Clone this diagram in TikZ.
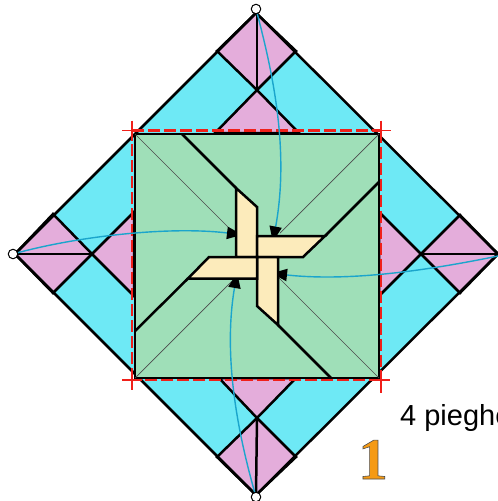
\documentclass[tikz,border=0pt]{standalone}
\usepackage{fontspec}
\setmainfont{Liberation Sans}
\newfontfamily\digitfont{Liberation Serif}
\usetikzlibrary{arrows.meta}
\definecolor{cy}{HTML}{6EE9F5}
\definecolor{pk}{HTML}{E4ADDB}
\definecolor{gn}{HTML}{9FDFB8}
\definecolor{cr}{HTML}{FCEBBB}
\definecolor{rd}{HTML}{F0201A}
\definecolor{tl}{HTML}{1BA5CC}
\definecolor{og}{HTML}{F59A14}
\pgfdeclarearrow{
  name=Trap,
  setup code={
    \pgfarrowssettipend{0pt}
    \pgfarrowssetbackend{-9pt}
    \pgfarrowssetlineend{-8pt}
    \pgfarrowssetvisualbackend{-8pt}
  },
  drawing code={
    \pgfpathmoveto{\pgfpoint{0pt}{2.6pt}}
    \pgfpathlineto{\pgfpoint{-9pt}{6.3pt}}
    \pgfpathlineto{\pgfpoint{-9pt}{-6.3pt}}
    \pgfpathlineto{\pgfpoint{0pt}{-2.6pt}}
    \pgfpathclose
    \pgfusepathqfill
  },
}
\tikzset{
  x=1pt,y=-1pt,
  edge/.style={draw=black,line width=2.5pt,line join=miter},
  pinkface/.style={fill=pk,edge},
  blade/.style={fill=cr,edge},
  fine/.style={draw=black!70,line width=.7pt},
  guide/.style={draw=rd,line width=2.2pt,dash pattern=on 12pt off 4pt},
  crossmark/.style={draw=rd,line width=1.2pt},
  flow/.style={draw=tl,line width=1.4pt,-{Trap[fill=black,color=black]}},
  dot/.style={circle,draw=black,fill=white,line width=1pt,inner sep=0pt,minimum size=9.5pt},
}
\begin{document}
\begin{tikzpicture}
\clip (0,0) rectangle (498,501);
\fill[white] (0,0) rectangle (498,501);
% diamond
\fill[cy] (256,13) -- (498,254) -- (256,495) -- (15,254) -- cycle;
% pink parts
\draw[pinkface] (256,13) -- (296,51) -- (257,90) -- (217,51) -- cycle;
\draw[pinkface] (257,90) -- (299,133) -- (215,133) -- cycle;
\draw[edge] (257,13) -- (257,90);
\draw[pinkface] (15,254) -- (53,214) -- (92,254) -- (53,293) -- cycle;
\draw[pinkface] (92,254) -- (134,212) -- (134,296) -- cycle;
\draw[edge] (15,254) -- (92,254);
\draw[pinkface] (498,254) -- (460,215) -- (421,254) -- (460,293) -- cycle;
\draw[pinkface] (421,254) -- (379,212) -- (379,296) -- cycle;
\draw[edge] (421,254) -- (498,254);
\draw[pinkface] (256,495) -- (217,457) -- (257,418) -- (296,457) -- cycle;
\draw[pinkface] (257,418) -- (219,378) -- (296,378) -- cycle;
\draw[edge] (257,418) -- (256,495);
\draw[edge] (256,13) -- (498,254) -- (256,495) -- (15,254) -- cycle;
% red guide
\draw[guide] (132,130.5) -- (381,130.5);
\draw[guide] (381,130.5) -- (381,380);
\draw[guide] (381,380) -- (132,380);
\draw[guide] (132,380) -- (132,130.5);
\draw[crossmark] (122,130.5) -- (142,130.5) (132,120.5) -- (132,140.5);
\draw[crossmark] (371,130.5) -- (391,130.5) (381,120.5) -- (381,140.5);
\draw[crossmark] (122,380) -- (142,380) (132,370) -- (132,390);
\draw[crossmark] (371,380) -- (390,380) (381,370) -- (381,393);
% green square
\draw[fill=gn,edge] (135,134) rectangle (379,378);
% thin diagonals
\draw[fine] (135,134) -- (232,231);
\draw[fine] (379,134) -- (280,233);
\draw[fine] (379,378) -- (278,277);
\draw[fine] (135,378) -- (232,281);
% pinwheel
\draw[edge] (182,134) -- (236,188);
\draw[edge] (325,236) -- (379,182);
\draw[edge] (278,325) -- (331,378);
\draw[edge] (188,278.5) -- (135,331);
\draw[blade] (236,188) -- (257,207) -- (257,257) -- (236,257) -- cycle;
\draw[blade] (257,236) -- (325,236) -- (303,257) -- (257,257) -- cycle;
\draw[blade] (257,257) -- (278,257) -- (278,325) -- (257,306) -- cycle;
\draw[blade] (209,257) -- (257,257) -- (257,278.5) -- (188,278.5) -- cycle;
% connectors
\node[dot] (ntop) at (256,9) {};
\node[dot] (nleft) at (13,254) {};
\node[dot] (nbot) at (256,497) {};
\coordinate (nright) at (498,256);
\coordinate (atop) at (274,235.5);
\coordinate (aleft) at (236,234);
\coordinate (aright) at (278,274);
\coordinate (abot) at (236,279);
\draw[flow] (ntop) .. controls (272,70) and (290,150) .. (atop);
\draw[flow] (nleft) .. controls (80,236) and (170,226) .. (aleft);
\draw[flow] (nright) .. controls (430,270) and (350,282) .. (aright);
\draw[flow] (nbot) .. controls (240,440) and (222,360) .. (abot);
% text
\node[anchor=base west,inner sep=0pt,font=\fontsize{29}{29}\selectfont] (lab) at (400,425) {4 pieghe};
\node[anchor=base,inner sep=0pt,font=\digitfont\bfseries\fontsize{59}{59}\selectfont] (num) at (373,479) {\color{og}\special{pdf:code 2 Tr 0.6 w 0.3 0.3 0.3 RG}1\special{pdf:code 0 Tr}};
\end{tikzpicture}
\end{document}
